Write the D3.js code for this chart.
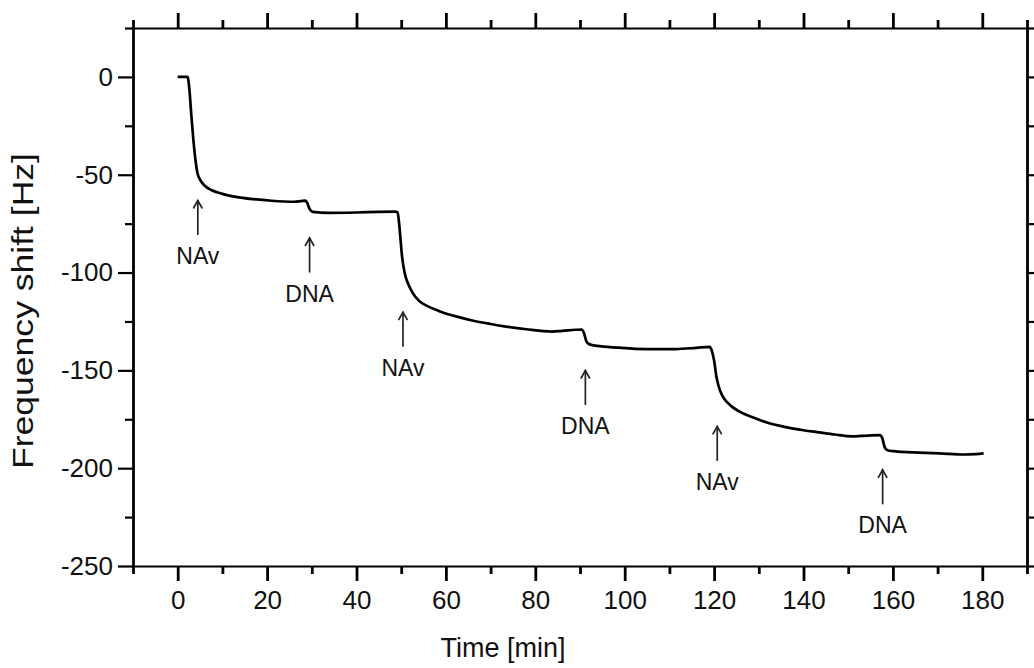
<!DOCTYPE html>
<html lang="en">
<head>
<meta charset="UTF-8">
<title>Frequency shift</title>
<script src="https://d3js.org/d3.v7.min.js"></script>
<style>
    body { margin: 0; background: #fff; }
    svg text { font-family: Arial, "Liberation Sans", Helvetica, sans-serif; fill: #111; }
    .domain { stroke: #000; }
    .tick line { stroke: #000; }
</style>
</head>
<body>
<div id="chart"></div>
<script>
// trace
var timeMin = [0, 2.2, 2.6, 3.0, 3.5, 4.0, 4.4, 5.0, 6.0, 7.5, 10, 13, 17, 21, 26, 27.5, 28.6,
    29.0, 29.5, 30.2, 33.8, 40, 45, 48.6, 49.2, 49.6, 50.2, 50.8, 51.6, 52.6, 54, 56, 58.4,
    62.9, 65.9, 70, 73.4, 78, 83.8, 86, 90.4, 90.9, 91.4, 91.9, 93, 98.7, 104.7, 111.4, 116,
    119.0, 119.5, 120.0, 120.5, 121.0, 121.8, 123.0, 125.6, 128.6, 132, 136, 140, 143.5, 147,
    150.9, 153, 157.1, 157.6, 158.2, 158.8, 160, 162, 165.9, 170.4, 176, 178.5, 180.3];
var shiftHz = [0, 0, -6, -18, -32, -43, -49, -52.5, -55.5, -57.8, -59.8, -61.3, -62.5, -63.3, -63.8, -63.5, -63.2,
    -64.5, -67.5, -69.0, -69.5, -69.3, -69.0, -68.9, -69.3, -76.5, -92, -100.5, -106, -110.5, -114.5, -117.3, -119.6,
    -122.8, -124.5, -126.3, -127.6, -129, -130.2, -129.8, -129.1, -131, -135, -136.4, -137.2, -138.4, -139.1, -139.1, -138.5,
    -138.0, -140, -145, -153, -158, -162.8, -166.5, -171, -174, -176.8, -179, -180.6, -181.7, -182.8,
    -183.7, -183.5, -183.1, -184.5, -189.5, -190.8, -191.3, -191.7, -192.0, -192.4, -193.0, -192.8, -192.4];

var xMajor = [0, 20, 40, 60, 80, 100, 120, 140, 160, 180];
var xMinor = [-10, 10, 30, 50, 70, 90, 110, 130, 150, 170, 190];
var yMajor = [-250, -200, -150, -100, -50, 0];
var yMinor = [-225, -175, -125, -75, -25, 25];

// arrow annotations: text, time of arrow, shift at arrow tip
var noteText = ["NAv", "DNA", "NAv", "DNA", "NAv", "DNA"];
var noteTime = [4.5, 29.5, 50.4, 91.2, 120.7, 157.7];
var noteShift = [-62.9, -82.1, -120.0, -149.8, -178.4, -200.6];

var w = 1034, h = 668;
var x = d3.scaleLinear().domain([-10, 190]).range([133, 1027]);
var y = d3.scaleLinear().domain([-250, 25]).range([566, 28]);

var svg = d3.select("#chart").append("svg")
    .attr("width", w)
    .attr("height", h);

function axisPair(axisFn, pos, transform, pad) {
    var major = axisFn(pos).tickValues(pos === x ? xMajor : yMajor)
        .tickSize(15).tickSizeOuter(0).tickPadding(pad)
        .tickFormat(pad ? function(d) { return String(d); } : "");
    var minor = axisFn(pos).tickValues(pos === x ? xMinor : yMinor)
        .tickSize(8).tickSizeOuter(0).tickFormat("");
    var g = svg.append("g").attr("transform", transform);
    g.append("g").call(major);
    g.append("g").call(minor).select(".domain").remove();
    return g;
}

var bottom = axisPair(d3.axisBottom, x, "translate(0," + y(-250) + ")", 10);
var top_ = axisPair(d3.axisTop, x, "translate(0," + y(25) + ")", 0);
var left = axisPair(d3.axisLeft, y, "translate(" + x(-10) + ",0)", 5);
var right = axisPair(d3.axisRight, y, "translate(" + x(190) + ",0)", 0);

// vertical strokes look heavier in the original
[bottom, top_].forEach(function(g) {
    g.selectAll(".domain").attr("stroke-width", 2.2);
    g.selectAll(".tick line").attr("stroke-width", 2.8);
});
[left, right].forEach(function(g) {
    g.selectAll(".domain").attr("stroke-width", 2.8);
    g.selectAll(".tick line").attr("stroke-width", 2.2);
});
bottom.selectAll("text").style("font-size", "26px");
left.selectAll("text").style("font-size", "26px");

svg.append("text")
    .attr("x", 503)
    .attr("y", 657)
    .attr("text-anchor", "middle")
    .style("font-size", "27px")
    .text("Time [min]");

svg.append("text")
    .attr("transform", "translate(33,311) rotate(-90)")
    .attr("text-anchor", "middle")
    .attr("textLength", 316)
    .attr("lengthAdjust", "spacingAndGlyphs")
    .style("font-size", "29px")
    .text("Frequency shift [Hz]");

var pts = timeMin.map(function(t, i) { return [t, shiftHz[i]]; });
var line = d3.line()
    .x(function(d) { return x(d[0]); })
    .y(function(d) { return y(d[1]); })
    .curve(d3.curveMonotoneX);

svg.append("path")
    .datum(pts)
    .attr("fill", "none")
    .attr("stroke", "#000")
    .attr("stroke-width", 2.7)
    .attr("stroke-linejoin", "round")
    .attr("d", line);

var notes = svg.selectAll(".note")
    .data(noteText)
    .enter().append("g")
    .attr("class", "note")
    .attr("transform", function(d, i) {
        return "translate(" + x(noteTime[i]) + "," + y(noteShift[i]) + ")";
    });

notes.append("line")
    .attr("x1", 0).attr("y1", 0)
    .attr("x2", 0).attr("y2", 35)
    .attr("stroke", "#222")
    .attr("stroke-width", 1.7);

notes.append("path")
    .attr("d", "M-4.5,8.5L0,0.5L4.5,8.5")
    .attr("fill", "none")
    .attr("stroke", "#222")
    .attr("stroke-width", 1.7);

notes.append("text")
    .attr("y", 64)
    .attr("text-anchor", "middle")
    .style("font-size", "23px")
    .text(function(d) { return d; });
</script>
</body>
</html>
